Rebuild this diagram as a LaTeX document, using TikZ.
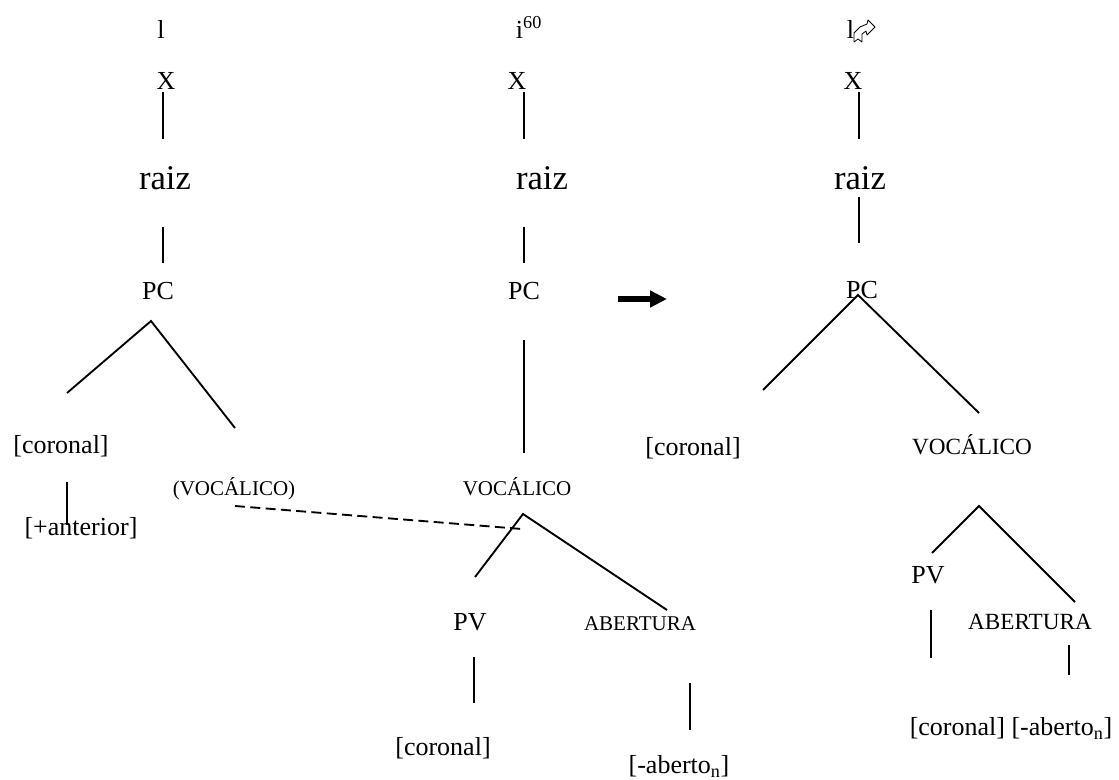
\documentclass[tikz,border=0pt]{standalone}
\usepackage{fontspec}
\setmainfont{Liberation Serif}
\usetikzlibrary{arrows.meta}
\begin{document}
\begin{tikzpicture}[x=0.75pt,y=-0.75pt,
  lab/.style={inner sep=0pt,anchor=base,font=\fontsize{19.5}{22}\selectfont},
  big/.style={lab,font=\fontsize{26}{28}\selectfont},
  sm/.style={lab,font=\fontsize{15.75}{18}\selectfont},
  smb/.style={lab,font=\fontsize{17.4}{20}\selectfont},
  edge/.style={line width=1.4pt},
  dashedge/.style={line width=1.4pt,dash pattern=on 7.5pt off 4pt},
  glyph/.style={line width=0.6pt,line join=round}]
\useasboundingbox (0,0) rectangle (1119,780);
% ---- column 1
\node[lab] (t1) at (161,39) {l};
\node[lab] (x1) at (166,90) {X};
\node[big] (r1) at (165,190) {raiz};
\node[lab] (pc1) at (158,299) {PC};
\node[lab] (cor1) at (61,453) {[coronal]};
\node[sm] (voc1) at (234,495) {(VOCÁLICO)};
\node[lab] (ant1) at (81,535) {[+anterior]};
\coordinate (a1) at (163,92);  \coordinate (b1) at (163,139);
\coordinate (c1) at (163,227); \coordinate (d1) at (163,263);
\coordinate (p1) at (151,321); \coordinate (pl1) at (67,393); \coordinate (pr1) at (235,428);
\coordinate (e1) at (67,482);  \coordinate (f1) at (67,525);
\coordinate (ds) at (235,506); \coordinate (de) at (522,529);
\draw[edge] (a1) -- (b1);
\draw[edge] (c1) -- (d1);
\draw[edge] (pl1) -- (p1) -- (pr1);
\draw[edge] (e1) -- (f1);
\draw[dashedge] (ds) -- (de);
% ---- column 2
\node[lab] (t2) at (529,39) {i\textsuperscript{60}};
\node[lab] (x2) at (517,90) {X};
\node[big] (r2) at (542,190) {raiz};
\node[lab] (pc2) at (524,299) {PC};
\node[sm] (voc2) at (517,495) {VOCÁLICO};
\node[lab] (pv2) at (470,630) {PV};
\node[sm] (ab2) at (640,630) {ABERTURA};
\node[lab] (cor2) at (443,755) {[coronal]};
\node[lab] (abn2) at (679,773) {[-aberto\textsubscript{n}]};
\coordinate (a2) at (524,92);  \coordinate (b2) at (524,139);
\coordinate (c2) at (524,227); \coordinate (d2) at (524,263);
\coordinate (g2) at (524,340); \coordinate (h2) at (524,453);
\coordinate (v2) at (523,514); \coordinate (vl2) at (475,577); \coordinate (vr2) at (667,610);
\coordinate (m2) at (474,657); \coordinate (n2) at (474,703);
\coordinate (o2) at (690,683); \coordinate (q2) at (690,730);
\draw[edge] (a2) -- (b2);
\draw[edge] (c2) -- (d2);
\draw[edge] (g2) -- (h2);
\draw[edge] (vl2) -- (v2) -- (vr2);
\draw[edge] (m2) -- (n2);
\draw[edge] (o2) -- (q2);
% ---- arrow
\coordinate (arrS) at (618,299); \coordinate (arrE) at (667,299);
\draw[line width=4pt,-{Triangle[length=12.75pt,width=12pt]}] (arrS) -- (arrE);
% ---- column 3
\node[lab] (t3) at (850.5,39) {l};
\draw[glyph] (854,42) -- (858,39) -- (862,42) -- (862,34) -- (866,31) -- (867,35)
  -- (875,27) -- (868,20) -- (867,24) -- (860,27) -- (854,33) -- cycle;
\node[lab] (x3) at (853,90) {X};
\node[big] (r3) at (860,190) {raiz};
\node[lab] (pc3) at (862,298) {PC};
\node[lab] (cor3) at (693,455) {[coronal]};
\node[smb] (voc3) at (972,454) {VOCÁLICO};
\node[lab] (pv3) at (928,583) {PV};
\node[smb] (ab3) at (1030,629) {ABERTURA};
\node[lab] (cab3) at (1011,735) {[coronal] [-aberto\textsubscript{n}]};
\coordinate (a3) at (859,92);  \coordinate (b3) at (859,139);
\coordinate (c3) at (859,197); \coordinate (d3) at (859,243);
\coordinate (p3) at (858,295); \coordinate (pl3) at (763,390); \coordinate (pr3) at (979,413);
\coordinate (v3) at (979,506); \coordinate (vl3) at (932,553); \coordinate (vr3) at (1075,602);
\coordinate (m3) at (931,610); \coordinate (n3) at (931,658);
\coordinate (o3) at (1069,645); \coordinate (q3) at (1069,675);
\draw[edge] (a3) -- (b3);
\draw[edge] (c3) -- (d3);
\draw[edge] (pl3) -- (p3) -- (pr3);
\draw[edge] (vl3) -- (v3) -- (vr3);
\draw[edge] (m3) -- (n3);
\draw[edge] (o3) -- (q3);
\end{tikzpicture}
\end{document}
